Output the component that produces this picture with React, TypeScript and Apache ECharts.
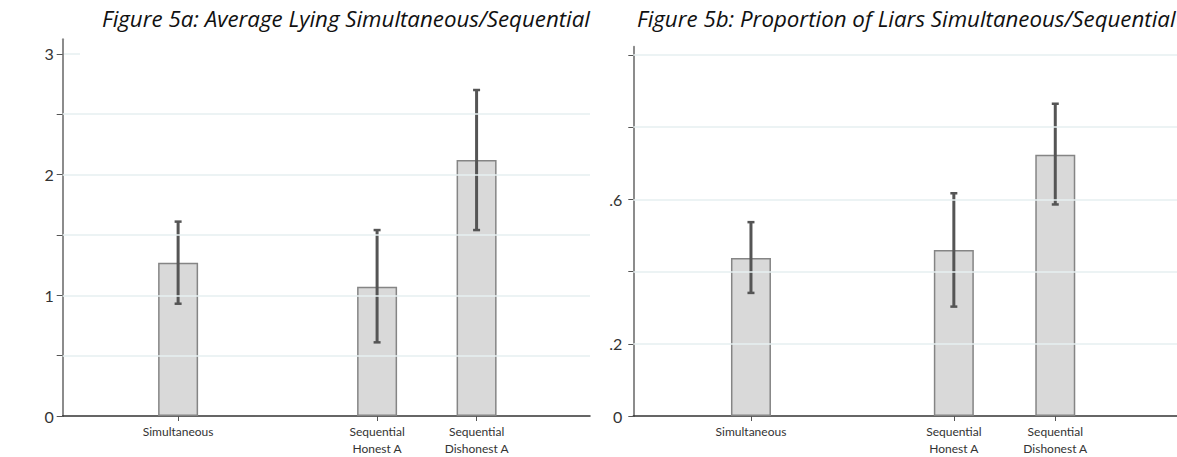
import React, { useEffect, useRef } from "react";
import * as echarts from "echarts";

const categories = ["Simultaneous", "Sequential\nHonest A", "Sequential\nDishonest A"];
const categoryPositions = [1, 3, 4];

// Figure 5a: Average Lying
const lyingMeans = [1.27, 1.07, 2.12];
const lyingLow = [0.93, 0.61, 1.54];
const lyingHigh = [1.61, 1.54, 2.7];

// Figure 5b: Proportion of Liars
const liarMeans = [0.438, 0.46, 0.724];
const liarLow = [0.341, 0.303, 0.586];
const liarHigh = [0.537, 0.617, 0.865];

const leftTicks = [0, 0.5, 1, 1.5, 2, 2.5, 3];
const leftLabels = [0, 1, 2, 3];
const leftGrid = [0.5, 1, 1.5, 2, 2.5];
const rightTicks = [0, 0.2, 0.4, 0.6, 0.8, 1];
const rightLabels = [0, 0.2, 0.6];
const rightGrid = [0.2, 0.4, 0.6, 0.8, 1];

const FONT = "Lato";
const TITLE_FONT = "Open Sans";

function fmtProp(v: number) {
  if (Math.abs(v) < 1e-9) return "0";
  return "." + String(Math.round(v * 10));
}

export default function App() {
  const ref = useRef<HTMLDivElement>(null);
  useEffect(() => {
    document.body.style.margin = "0";
    const chart = echarts.init(ref.current!, null, { renderer: "svg" });

    const errRender = (params: any, api: any) => {
      const x = api.value(0);
      const lo = api.coord([x, api.value(1)]);
      const hi = api.coord([x, api.value(2)]);
      const cap = 3.5;
      const style = { stroke: "#555555", lineWidth: 3 };
      return {
        type: "group",
        children: [
          { type: "line", shape: { x1: lo[0], y1: lo[1], x2: hi[0], y2: hi[1] }, style },
          { type: "line", shape: { x1: hi[0] - cap, y1: hi[1], x2: hi[0] + cap, y2: hi[1] }, style: { stroke: "#555555", lineWidth: 2.5 } },
          { type: "line", shape: { x1: lo[0] - cap, y1: lo[1], x2: lo[0] + cap, y2: lo[1] }, style: { stroke: "#555555", lineWidth: 2.5 } },
        ],
      };
    };

    const xAxisBase = (idx: number, max: number) => ({
      type: "value",
      gridIndex: idx,
      min: -0.16,
      max,
      axisLine: { show: true, onZero: false, lineStyle: { color: "#333333", width: 1.5 } },
      axisTick: { show: true, customValues: categoryPositions, length: 5, lineStyle: { color: "#555555" } },
      axisLabel: {
        customValues: categoryPositions,
        formatter: (v: number) => categories[categoryPositions.indexOf(Math.round(v))] || "",
        fontFamily: FONT,
        fontSize: 12,
        lineHeight: 17,
        color: "#333333",
        margin: 7,
      },
      splitLine: { show: false },
    });

    const gridLine = (vals: number[]) => ({
      silent: true,
      symbol: ["none", "none"],
      label: { show: false },
      lineStyle: { color: "#e6eff0", width: 1.5, type: "solid" },
      data: vals.map((v) => ({ yAxis: v })),
    });

    const titleStyle = { fontFamily: TITLE_FONT, fontStyle: "italic", fontWeight: "normal", fontSize: 22.3, color: "#111111" };

    const option: any = {
      animation: false,
      backgroundColor: "#ffffff",
      title: [
        { text: "Figure 5a: Average Lying Simultaneous/Sequential", left: 102, top: 7, padding: 0, textStyle: titleStyle },
        { text: "Figure 5b: Proportion of Liars Simultaneous/Sequential", left: 637, top: 7, padding: 0, textStyle: titleStyle },
      ],
      grid: [
        { left: 62.7, top: 39.3, width: 527.3, bottom: 39.3 },
        { left: 633.3, top: 46.7, width: 543.7, bottom: 39.3 },
      ],
      xAxis: [xAxisBase(0, 5.14), xAxisBase(1, 5.2)],
      yAxis: [
        {
          type: "value",
          gridIndex: 0,
          min: 0,
          max: 3.12,
          interval: 0.5,
          axisLine: { show: true, onZero: false, lineStyle: { color: "#8c8c8c", width: 2 } },
          axisTick: { show: true, customValues: leftTicks, length: 6, lineStyle: { color: "#555555" } },
          axisLabel: {
            customValues: leftLabels,
            formatter: (v: number) => String(Math.round(v)),
            fontFamily: FONT,
            fontSize: 16,
            color: "#333333",
            margin: 9,
          },
          splitLine: { show: false },
        },
        {
          type: "value",
          gridIndex: 1,
          min: 0,
          max: 1.023,
          interval: 0.2,
          axisLine: { show: true, onZero: false, lineStyle: { color: "#8c8c8c", width: 2 } },
          axisTick: { show: true, customValues: rightTicks, length: 5, lineStyle: { color: "#555555" } },
          axisLabel: {
            customValues: rightLabels,
            formatter: (v: number) => fmtProp(v),
            fontFamily: FONT,
            fontSize: 16,
            color: "#333333",
            margin: 11,
          },
          splitLine: { show: false },
        },
      ],
      series: [
        {
          type: "bar",
          xAxisIndex: 0,
          yAxisIndex: 0,
          barWidth: 40,
          data: categoryPositions.map((x, i) => [x, lyingMeans[i]]),
          itemStyle: { color: "#d9d9d9", borderColor: "#858585", borderWidth: 1.5 },
          markLine: gridLine(leftGrid),
          z: 2,
        },
        {
          type: "custom",
          xAxisIndex: 0,
          yAxisIndex: 0,
          renderItem: errRender,
          data: categoryPositions.map((x, i) => [x, lyingLow[i], lyingHigh[i]]),
          z: 3,
        },
        {
          type: "bar",
          xAxisIndex: 1,
          yAxisIndex: 1,
          barWidth: 40,
          data: categoryPositions.map((x, i) => [x, liarMeans[i]]),
          itemStyle: { color: "#d9d9d9", borderColor: "#858585", borderWidth: 1.5 },
          markLine: gridLine(rightGrid),
          z: 2,
        },
        {
          type: "custom",
          xAxisIndex: 1,
          yAxisIndex: 1,
          renderItem: errRender,
          data: categoryPositions.map((x, i) => [x, liarLow[i], liarHigh[i]]),
          z: 3,
        },
      ],
      graphic: [
        {
          type: "line",
          shape: { x1: 63, y1: 54, x2: 80, y2: 54 },
          style: { stroke: "#e6eff0", lineWidth: 1.5 },
          z: 0,
        },
      ],
    };
    chart.setOption(option);
    return () => chart.dispose();
  }, []);
  return <div ref={ref} style={{ width: 1177, height: 457 }} />;
}
